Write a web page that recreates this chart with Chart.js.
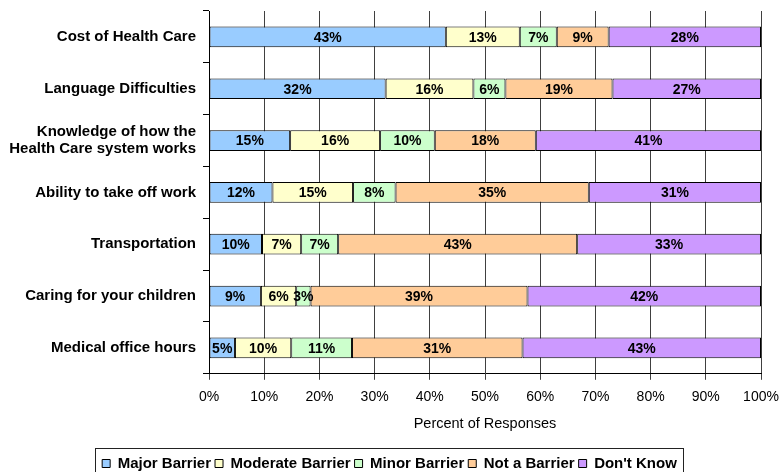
<!DOCTYPE html>
<html>
<head>
<meta charset="utf-8">
<script src="https://cdn.jsdelivr.net/npm/chart.js@4/dist/chart.umd.min.js"></script>
<style>
	body { margin: 0; background: #fff; }
</style>
</head>
<body>
<canvas id="chart-barriers" width="779" height="472"></canvas>
<script>
	// categories and series (percent of responses)
	var categories = [
		"Cost of Health Care",
		"Language Difficulties",
		["Knowledge of how the", "Health Care system works"],
		"Ability to take off work",
		"Transportation",
		"Caring for your children",
		"Medical office hours"
	];
	var majorBarrier    = [42.9, 32.0, 14.7, 11.5,  9.6,  9.4,  4.7];
	var moderateBarrier = [13.4, 15.9, 16.3, 14.6,  7.1,  6.4, 10.2];
	var minorBarrier    = [ 6.7,  5.8,  9.9,  7.7,  6.7,  2.6, 11.0];
	var notABarrier     = [ 9.4, 19.4, 18.3, 35.0, 43.3, 39.3, 30.9];
	var dontKnow        = [27.6, 26.9, 40.8, 31.2, 33.3, 42.3, 43.2];
	var xTickValues     = [0, 10, 20, 30, 40, 50, 60, 70, 80, 90, 100];

	var fontFamily = "'Liberation Sans', Arial, sans-serif";

	// percent labels in the middle of every segment
	var segmentLabels = {
		id: "segmentLabels",
		afterDatasetsDraw: function(chart)
		{
			var ctx = chart.ctx;
			ctx.save();
			ctx.font = "bold 14px " + fontFamily;
			ctx.fillStyle = "#000";
			ctx.textAlign = "center";
			ctx.textBaseline = "middle";
			chart.data.datasets.forEach(function(ds, i)
			{
				chart.getDatasetMeta(i).data.forEach(function(bar, j)
				{
					var c = bar.getCenterPoint();
					ctx.fillText(Math.round(ds.data[j]) + "%", c.x, c.y + 1);
				});
			});
			ctx.restore();
		}
	};

	// frame round the legend (its lower edge runs off the picture, as in the original)
	var legendFrame = {
		id: "legendFrame",
		afterDraw: function(chart)
		{
			var boxes = chart.legend.legendHitBoxes;
			if (!boxes || !boxes.length) return;
			var left = Math.min.apply(null, boxes.map(function(b) { return b.left; }));
			var right = Math.max.apply(null, boxes.map(function(b) { return b.left + b.width; }));
			var top = boxes[0].top;
			var ctx = chart.ctx;
			ctx.save();
			ctx.strokeStyle = "#222";
			ctx.lineWidth = 1;
			ctx.strokeRect(Math.round(left - 7) + 0.5, Math.round(top - 8) + 0.5, Math.round(right - left + 13), 40);
			ctx.restore();
		}
	};

	function makeDataset(label, data, color)
	{
		return {
			label: label,
			data: data,
			backgroundColor: color,
			borderColor: "#000",
			borderWidth: 1,
			borderSkipped: false,
			barPercentage: 0.4,
			categoryPercentage: 1
		};
	}

	new Chart("chart-barriers", {
		type: "bar",
		data: {
			labels: categories,
			datasets: [
				makeDataset("Major Barrier", majorBarrier, "#99CCFF"),
				makeDataset("Moderate Barrier", moderateBarrier, "#FFFFCC"),
				makeDataset("Minor Barrier", minorBarrier, "#CCFFCC"),
				makeDataset("Not a Barrier", notABarrier, "#FFCC99"),
				makeDataset("Don't Know", dontKnow, "#CC99FF")
			]
		},
		options: {
			indexAxis: "y",
			responsive: false,
			animation: false,
			layout: { padding: { top: 11, right: 0, left: 0, bottom: -9 } },
			scales: {
				x: {
					stacked: true,
					min: 0,
					max: 100,
					afterBuildTicks: function(scale)
					{
						scale.ticks = xTickValues.map(function(v) { return { value: v }; });
					},
					afterFit: function(scale)
					{
						scale.paddingLeft = 0;
						scale.paddingRight = 18;
					},
					ticks: {
						color: "#000",
						font: { family: fontFamily, size: 14 },
						padding: 9,
						callback: function(v) { return v + "%"; }
					},
					grid: { color: "#404040", tickLength: 6, lineWidth: 1 },
					border: { color: "#000" },
					title: {
						display: true,
						text: "Percent of Responses",
						color: "#000",
						font: { family: fontFamily, size: 14.5 },
						padding: { top: 1, bottom: 19 }
					}
				},
				y: {
					stacked: true,
					afterFit: function(scale)
					{
						scale.width = 209;
						scale.paddingTop = 0;
						scale.paddingBottom = 0;
					},
					ticks: {
						color: "#000",
						font: { family: fontFamily, size: 15, weight: "bold", lineHeight: 1.1 },
						padding: 7
					},
					grid: { drawOnChartArea: false, offset: true, tickLength: 6, color: "#000" },
					border: { color: "#000" }
				}
			},
			plugins: {
				legend: {
					position: "bottom",
					labels: {
						color: "#000",
						font: { family: fontFamily, size: 15, weight: "bold" },
						boxWidth: 8,
						boxHeight: 8,
						padding: 4
					}
				},
				tooltip: { enabled: false }
			}
		},
		plugins: [segmentLabels, legendFrame]
	});
</script>
</body>
</html>
